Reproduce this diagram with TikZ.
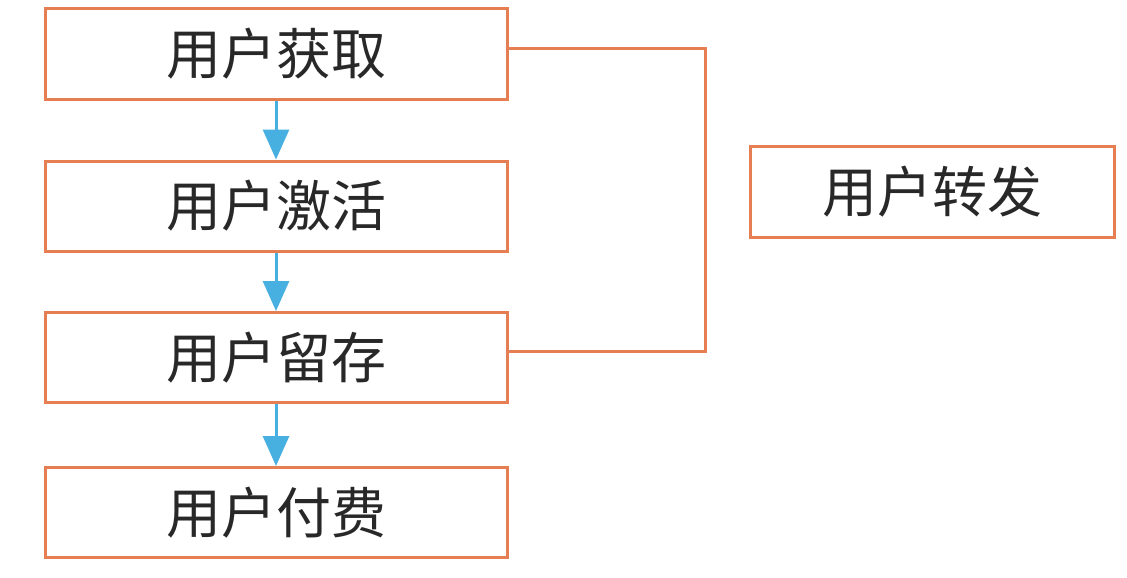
\documentclass[tikz,border=0pt]{standalone}
\usepackage{fontspec}
\newfontfamily\cjk{Noto Sans CJK SC}
\usetikzlibrary{arrows.meta}
\definecolor{boxorange}{RGB}{230,126,84}
\definecolor{arrowblue}{RGB}{72,175,225}
\definecolor{txtgray}{RGB}{40,40,40}
\tikzset{
  stagebox/.style={draw=boxorange, line width=3pt, minimum width=462pt, minimum height=90pt, inner sep=0pt, font=\cjk\fontsize{55}{62}\selectfont, text=txtgray},
  flowarrow/.style={draw=arrowblue, line width=3pt, -{Triangle[length=30pt,width=26pt]}},
  link/.style={draw=boxorange, line width=3pt}
}
\begin{document}
\begin{tikzpicture}[x=1pt,y=-1pt]
\useasboundingbox (0,0) rectangle (1127,578);
\node[stagebox] (b1) at (276,54) {用户获取};
\node[stagebox] (b2) at (276,206) {用户激活};
\node[stagebox] (b3) at (276,357.5) {用户留存};
\node[stagebox] (b4) at (276,512.5) {用户付费};
\node[stagebox, minimum width=364pt, minimum height=91pt] (r) at (932,191.5) {用户转发};
\coordinate (br) at (705,0);
\draw[flowarrow] (b1.south) -- (b2.north);
\draw[flowarrow] (b2.south) -- (b3.north);
\draw[flowarrow] (b3.south) -- (b4.north);
\draw[link] ([yshift=5pt]b1.east) -- ([yshift=5pt]b1.east -| br) -- ([yshift=6pt]b3.east -| br) -- ([yshift=6pt]b3.east);
\end{tikzpicture}
\end{document}
